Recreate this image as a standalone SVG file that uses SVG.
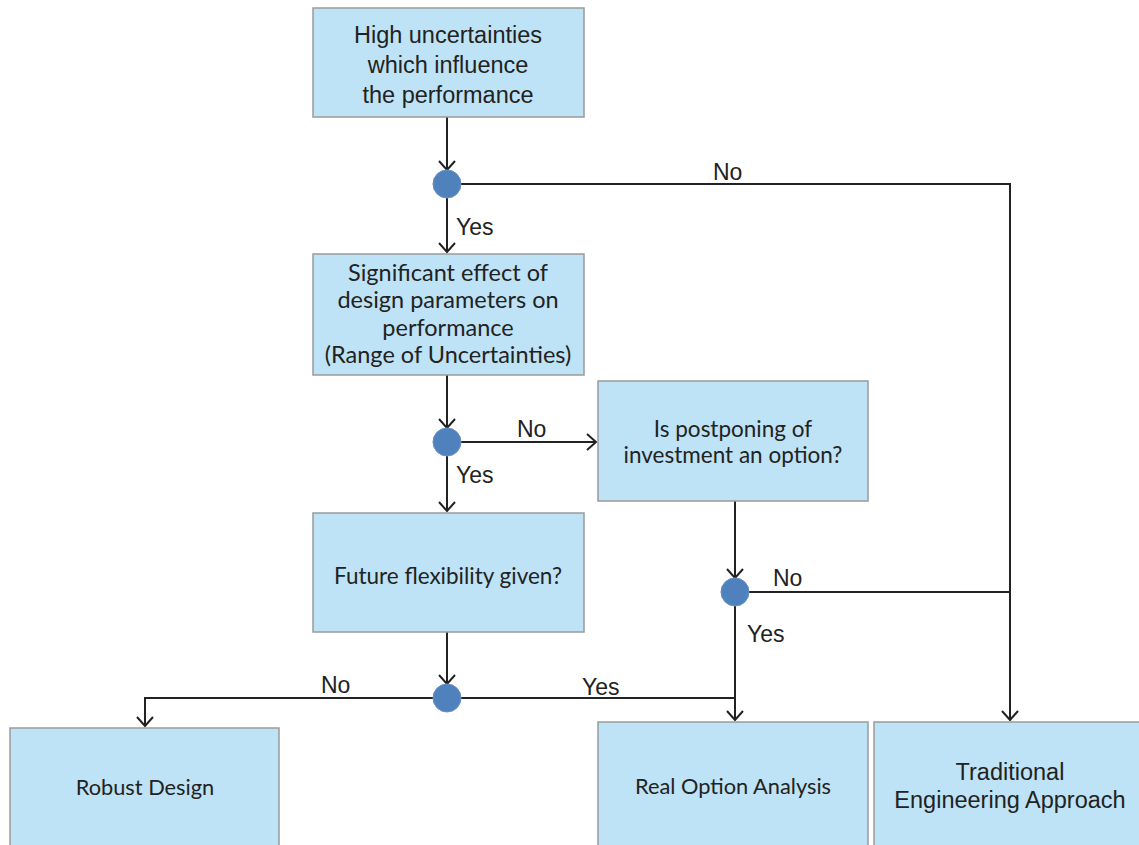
<svg xmlns="http://www.w3.org/2000/svg" width="1139" height="845" viewBox="0 0 1139 845">
<style>
.box{fill:#bee3f6;stroke:#9a9a9a;stroke-width:1.5}
.a{font-family:"Liberation Sans",Arial,sans-serif;font-size:23.5px;fill:#222;text-anchor:middle}
.c{font-family:Lato,"Open Sans",sans-serif;font-size:22.5px;fill:#222;text-anchor:middle}
.lbl{font-family:"Liberation Sans",Arial,sans-serif;font-size:23px;fill:#222}
.ln{fill:none;stroke:#222;stroke-width:2}
.dot{fill:#4f81bd;stroke:#6b8fc4;stroke-width:1}
</style>
<defs>
<marker id="arr" markerWidth="20" markerHeight="20" refX="10" refY="10" orient="auto" markerUnits="userSpaceOnUse">
<path d="M1,2 L10,10 L1,18" fill="none" stroke="#222" stroke-width="2"/>
</marker>
</defs>
<g id="connectors">
<path class="ln" d="M447,117 V170" marker-end="url(#arr)"/>
<path class="ln" d="M447,198 V252" marker-end="url(#arr)"/>
<path class="ln" d="M461,184 H1010 V720" marker-end="url(#arr)"/>
<path class="ln" d="M447,375 V428" marker-end="url(#arr)"/>
<path class="ln" d="M461,442 H596" marker-end="url(#arr)"/>
<path class="ln" d="M447,456 V511" marker-end="url(#arr)"/>
<path class="ln" d="M447,632 V684" marker-end="url(#arr)"/>
<path class="ln" d="M433,698 H145 V726" marker-end="url(#arr)"/>
<path class="ln" d="M461,698 H735"/>
<path class="ln" d="M735,501 V578" marker-end="url(#arr)"/>
<path class="ln" d="M749,592 H1010"/>
<path class="ln" d="M735,606 V720" marker-end="url(#arr)"/>
<text class="lbl" x="713" y="180">No</text>
<text class="lbl" x="456" y="235">Yes</text>
<text class="lbl" x="517" y="437">No</text>
<text class="lbl" x="456" y="483">Yes</text>
<text class="lbl" x="773" y="586">No</text>
<text class="lbl" x="747" y="642">Yes</text>
<text class="lbl" x="321" y="693">No</text>
<text class="lbl" x="582" y="695">Yes</text>
</g>
<g id="n1"><rect class="box" x="313" y="8" width="271" height="109"/>
<text class="a" x="448" y="43">High uncertainties</text>
<text class="a" x="448" y="73">which influence</text>
<text class="a" x="448" y="103">the performance</text></g>
<g id="d1"><circle class="dot" cx="447" cy="184" r="14"/></g>
<g id="n2"><rect class="box" x="313" y="254" width="271" height="121"/>
<g style="font-size:23.5px">
<text class="c" x="448" y="281" style="font-size:23.5px">Significant effect of</text>
<text class="c" x="448" y="308" style="font-size:23.5px">design parameters on</text>
<text class="c" x="448" y="336" style="font-size:23.5px">performance</text>
<text class="c" x="448" y="363" style="font-size:23.5px">(Range of Uncertainties)</text></g></g>
<g id="d2"><circle class="dot" cx="447" cy="442" r="14"/></g>
<g id="n3"><rect class="box" x="598" y="381" width="270" height="120"/>
<text class="c" x="733" y="437">Is postponing of</text>
<text class="c" x="733" y="463">investment an option?</text></g>
<g id="n4"><rect class="box" x="313" y="513" width="271" height="119"/>
<text class="c" x="448" y="584">Future flexibility given?</text></g>
<g id="d3"><circle class="dot" cx="735" cy="592" r="14"/></g>
<g id="d4"><circle class="dot" cx="447" cy="698" r="14"/></g>
<g id="n5"><rect class="box" x="10" y="728" width="269" height="130"/>
<text class="c" x="145" y="795" style="font-size:21.8px">Robust Design</text></g>
<g id="n6"><rect class="box" x="598" y="722" width="270" height="136"/>
<text class="c" x="733" y="794" style="font-size:21.8px">Real Option Analysis</text></g>
<g id="n7"><rect class="box" x="874" y="722" width="270" height="136"/>
<text class="a" x="1010" y="780">Traditional</text>
<text class="a" x="1010" y="808">Engineering Approach</text></g>
</svg>
